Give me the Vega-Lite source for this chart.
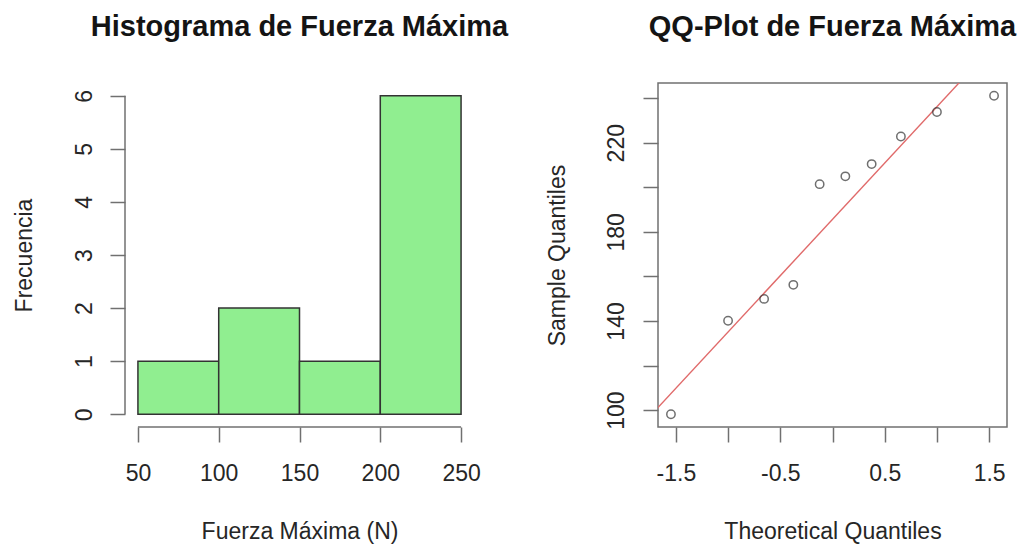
{
  "$schema": "https://vega.github.io/schema/vega-lite/v6.json",
  "background": "white",
  "padding": {"left": 13, "top": 12, "right": 0, "bottom": 0},
  "spacing": 184,
  "bounds": "flush",
  "config": {
    "font": "Liberation Sans",
    "view": {"stroke": null},
    "axis": {
      "grid": false,
      "domain": false,
      "tickColor": "#707070",
      "tickWidth": 1.5,
      "tickSize": 15,
      "labelFont": "Liberation Sans",
      "labelFontSize": 23,
      "labelColor": "#262626",
      "labelOverlap": false,
      "labelFlush": false,
      "titleFont": "Liberation Sans",
      "titleFontSize": 23,
      "titleFontWeight": "normal",
      "titleColor": "#262626"
    },
    "title": {
      "font": "Liberation Sans",
      "fontSize": 29,
      "fontWeight": "bold",
      "color": "#141414",
      "anchor": "middle",
      "baseline": "alphabetic",
      "offset": 41
    }
  },
  "datasets": {
    "hist": [
      {"bin_start": 50, "bin_end": 100, "count": 1},
      {"bin_start": 100, "bin_end": 150, "count": 2},
      {"bin_start": 150, "bin_end": 200, "count": 1},
      {"bin_start": 200, "bin_end": 250, "count": 6}
    ],
    "qq": [
      {"tq": -1.547, "sq": 98.1},
      {"tq": -1.0, "sq": 140.1},
      {"tq": -0.655, "sq": 149.9},
      {"tq": -0.375, "sq": 156.2},
      {"tq": -0.123, "sq": 201.4},
      {"tq": 0.123, "sq": 204.9},
      {"tq": 0.375, "sq": 210.4},
      {"tq": 0.655, "sq": 222.8},
      {"tq": 1.0, "sq": 233.8},
      {"tq": 1.547, "sq": 241.1}
    ],
    "qqline": [
      {"tq": -2.0, "sq": 84.5},
      {"tq": 2.0, "sq": 286.7}
    ],
    "one": [{}]
  },
  "hconcat": [
    {
      "width": 349,
      "height": 344,
      "title": "Histograma de Fuerza Máxima",
      "layer": [
        {
          "data": {"name": "hist"},
          "mark": {"type": "rect", "fill": "#90EE90", "stroke": "#333333", "strokeWidth": 1.5},
          "encoding": {
            "x": {
              "field": "bin_start",
              "type": "quantitative",
              "scale": {"domain": [42, 258], "nice": false, "zero": false},
              "axis": {
                "values": [50, 100, 150, 200, 250],
                "title": "Fuerza Máxima (N)",
                "labelPadding": 20,
                "titleY": 111.5,
                "titleBaseline": "alphabetic",
                "titleAlign": "center"
              }
            },
            "x2": {"field": "bin_end"},
            "y": {
              "field": "count",
              "type": "quantitative",
              "scale": {"domain": [-0.24, 6.24], "nice": false, "zero": false},
              "axis": {
                "values": [0, 1, 2, 3, 4, 5, 6],
                "title": "Frecuencia",
                "labelAngle": -90,
                "labelAlign": "center",
                "labelBaseline": "bottom",
                "labelPadding": 14,
                "titleAngle": -90,
                "titleX": -100.6,
                "titleY": 172,
                "titleAlign": "center",
                "titleBaseline": "middle"
              }
            },
            "y2": {"datum": 0}
          }
        },
        {
          "data": {"name": "one"},
          "mark": {"type": "rule", "color": "#707070", "strokeWidth": 1.5},
          "encoding": {
            "x": {"datum": 50, "type": "quantitative"},
            "x2": {"datum": 250},
            "y": {"datum": -0.24, "type": "quantitative"}
          }
        },
        {
          "data": {"name": "one"},
          "mark": {"type": "rule", "color": "#707070", "strokeWidth": 1.5},
          "encoding": {
            "x": {"datum": 42, "type": "quantitative"},
            "y": {"datum": 0, "type": "quantitative"},
            "y2": {"datum": 6}
          }
        }
      ]
    },
    {
      "width": 349,
      "height": 344,
      "title": "QQ-Plot de Fuerza Máxima",
      "view": {"stroke": "#707070", "strokeWidth": 1.5},
      "layer": [
        {
          "data": {"name": "qqline"},
          "mark": {"type": "line", "clip": true, "color": "#e06a6a", "strokeWidth": 1.4},
          "encoding": {
            "x": {
              "field": "tq",
              "type": "quantitative",
              "scale": {"domain": [-1.671, 1.671], "nice": false, "zero": false},
              "axis": {
                "values": [-1.5, -1, -0.5, 0, 0.5, 1, 1.5],
                "labelExpr": "datum.value % 1 == 0 ? '' : (datum.value < 0 ? '-' + format(-datum.value, '.1f') : format(datum.value, '.1f'))",
                "title": "Theoretical Quantiles",
                "labelPadding": 20,
                "titleY": 111.5,
                "titleBaseline": "alphabetic",
                "titleAlign": "center"
              }
            },
            "y": {
              "field": "sq",
              "type": "quantitative",
              "scale": {"domain": [92.4, 246.8], "nice": false, "zero": false},
              "axis": {
                "values": [100, 120, 140, 160, 180, 200, 220, 240],
                "labelExpr": "datum.value % 40 == 20 ? datum.label : ''",
                "title": "Sample Quantiles",
                "labelAngle": -90,
                "labelAlign": "center",
                "labelBaseline": "bottom",
                "labelPadding": 15,
                "titleAngle": -90,
                "titleX": -101,
                "titleY": 172,
                "titleAlign": "center",
                "titleBaseline": "middle"
              }
            }
          }
        },
        {
          "data": {"name": "qq"},
          "mark": {"type": "point", "shape": "circle", "filled": false, "stroke": "#333333", "strokeWidth": 1.5, "size": 70},
          "encoding": {
            "x": {"field": "tq", "type": "quantitative"},
            "y": {"field": "sq", "type": "quantitative"}
          }
        }
      ]
    }
  ]
}
